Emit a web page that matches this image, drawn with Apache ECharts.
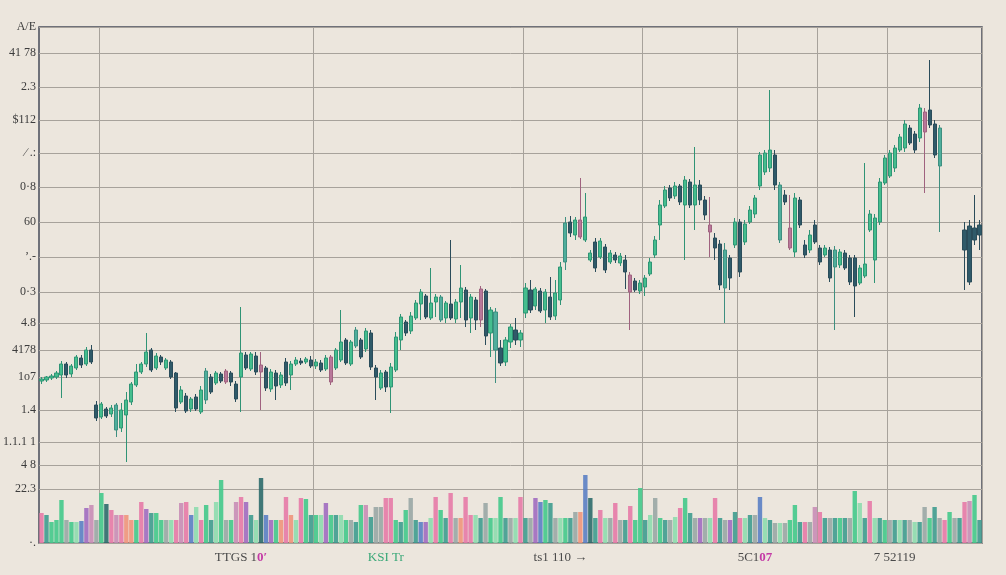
<!DOCTYPE html>
<html><head><meta charset="utf-8">
<script src="https://cdn.jsdelivr.net/npm/echarts@6/dist/echarts.min.js"></script>
<style>html,body{margin:0;padding:0;background:#ece6dd}#c{width:1006px;height:575px}</style>
</head><body><div id="c"></div>
<script>
// ---- data (price units are arbitrary chart units; [open, close, low, high]) ----
const ohlc = [
[162,164,159,166],[163,166,161,167],[165,167,163,169],[166,170,164,172],[168,179,145,182],
[179,168,165,181],[169,177,166,179],[175,186,173,188],[185,178,175,188],[179,193,177,196],
[193,181,179,198],[138,125,122,142],[126,139,124,141],[134,127,125,136],[129,135,126,138],
[138,113,106,140],[115,133,111,140],[128,143,81,151],[141,159,138,161],[158,171,156,179],
[171,179,169,181],[179,191,176,210],[193,173,171,195],[175,187,173,190],[186,181,178,188],
[175,183,173,185],[181,166,164,183],[170,135,131,171],[141,153,139,157],[147,132,130,150],
[134,144,131,146],[146,134,132,149],[131,153,129,157],[143,172,139,175],[166,151,149,169],
[160,170,158,172],[169,162,160,171],[161,172,159,174],[170,161,157,172],[159,144,141,162],
[166,190,131,236],[188,175,173,191],[174,189,172,191],[187,171,168,191],[171,178,133,191],
[175,155,152,177],[154,171,151,174],[170,157,143,173],[158,168,155,171],[181,160,157,185],
[168,179,153,182],[179,183,177,186],[182,180,178,185],[181,184,179,186],[183,177,175,187],
[177,181,174,184],[180,173,171,183],[174,185,172,188],[186,161,158,188],[175,193,173,195],
[183,201,181,233],[203,180,178,205],[179,201,177,203],[197,213,195,216],[203,186,184,205],
[194,212,191,215],[210,176,173,213],[175,166,143,178],[155,170,153,173],[171,156,151,173],
[156,176,130,180],[173,206,171,211],[203,226,193,229],[221,210,207,223],[212,227,209,231],
[225,240,223,243],[239,251,223,254],[247,226,224,249],[225,240,223,275],[241,246,226,249],
[246,223,221,248],[225,240,220,242],[239,225,223,303],[224,241,220,244],[241,255,225,278],
[253,223,216,256],[225,246,210,249],[243,223,213,246],[223,254,216,257],[252,207,198,254],
[210,233,186,236],[231,193,160,235],[195,180,177,203],[181,203,177,206],[201,216,195,219],
[213,203,198,225],[203,210,196,213],[230,255,225,260],[253,233,230,263],[237,254,233,256],
[252,232,230,255],[233,251,220,254],[246,226,223,266],[227,250,223,263],[243,276,238,281],
[281,320,273,326],[321,310,306,327],[308,323,303,326],[323,306,304,365],[303,326,301,350],
[283,290,281,293],[301,275,271,305],[286,302,284,305],[296,273,270,299],[281,290,279,293],
[288,283,280,291],[280,287,277,290],[283,271,254,288],[268,251,213,271],[262,253,251,265],
[252,260,249,263],[256,265,247,268],[269,281,267,285],[288,303,285,307],[318,338,303,343],
[337,353,335,357],[355,345,342,358],[347,357,344,361],[357,341,338,359],[338,363,283,367],
[361,338,335,364],[338,358,313,396],[358,343,338,363],[343,328,323,347],[318,311,286,346],
[305,295,283,310],[299,258,253,303],[255,293,220,300],[285,265,253,288],[298,321,295,325],
[321,271,266,324],[301,319,298,323],[321,333,319,337],[329,345,325,348],[357,388,353,391],
[371,390,368,393],[375,393,371,453],[388,358,353,393],[358,303,300,361],[348,341,338,353],
[315,295,293,348],[291,345,286,350],[343,318,315,346],[298,288,285,303],[293,308,290,313],
[318,301,299,323],[295,281,278,298],[288,295,286,298],[293,265,261,296],[293,276,213,297],
[278,291,275,294],[290,275,273,293],[285,261,258,288],[285,257,226,288],[260,275,258,278],
[267,279,265,380],[313,329,311,333],[283,325,260,329],[321,361,318,365],[360,385,358,388],
[367,390,365,393],[375,395,371,398],[393,406,391,409],[395,419,391,423],[415,400,398,418],
[409,393,390,412],[405,435,401,439],[431,411,350,435],[433,418,415,483],[419,388,385,423],
[415,377,311,418],['-','-','-','-'],['-','-','-','-'],['-','-','-','-'],['-','-','-','-'],
[313,293,253,321],[317,261,258,323],[315,303,298,348],[318,308,293,323]
];
const volume = [
30,28,21,23,43,23,21,21,22,35, 38,23,50,39,33,28,28,28,23,23,
41,34,30,30,23,23,23,23,40,41, 28,36,23,38,23,41,63,23,23,41,
46,41,28,23,65,28,23,23,23,46, 28,23,45,44,28,28,28,40,28,28,
28,23,23,21,38,38,26,36,36,45, 45,23,21,33,45,23,21,21,25,46,
33,25,50,25,25,46,28,28,25,40, 25,25,46,25,25,25,46,25,25,45,
41,43,40,25,25,25,25,31,31,68, 45,25,33,25,25,40,23,23,37,23,
55,23,28,45,25,23,23,26,35,45, 30,25,25,25,25,45,25,23,23,31,
25,25,28,28,46,25,23,20,20,20, 23,38,21,21,21,36,31,25,25,25,
25,25,25,52,40,25,42,25,25,23, 23,23,23,23,23,21,21,36,25,36,
25,23,31,25,25,41,42,48,23
];
const volColorKeys = "ptgggyglbumygdpmpssgputggylpmpblpgtlgygmputldbugspslpgtglugtlgytgmtyyppgtgytbulpgtpyspplty" +
  "glgtylptyubgtylgtysbdtplypytpggtlygtylpgtyuylptyutpltybltylyggtpymptytgtygltpltgytltyltygtypgytpmgt";
const volPalette = {p:'#e77aa7', t:'#3f9c8f', g:'#44c98b', y:'#9aa7a5', l:'#8edbae', b:'#5b80c4',
  u:'#a16cc0', m:'#c98db6', s:'#f0957c', d:'#2e6b6b'};
const categories = ohlc.map((_, i) => 'D' + (i + 1));
const priceTicks = [0, 54, 78, 101, 133, 166, 193, 220, 251, 286, 321, 356, 390, 423, 456, 490, 516];
const priceTickLabels = ['\u00b7.', '22.3', '4 8', '1.1.1 1', '1.4', '1o7', '4178', '4.8', '0\u00b73', '\u2019.-',
  '60', '0\u00b78', '\u2215 .:', '$112', '2.3', '41 78', 'A/E'];
const xLabelIdx = [40, 69, 104, 143, 171];
const xLabelText = ['{a|TTGS 1}{m|0\u02b9}', '{g|KSI Tr}', '{a|ts1 110 \u2192}', '{a|5C1}{m|07}', '{a|7 52119}'];
const vGridIdx = [12, 55, 97, 121, 140, 156, 170];
const mauveIdx = [37, 44, 58, 88, 108, 134, 150, 177, 118];
const tealIdx = [15, 33, 63, 80, 91, 105, 137, 148, 159, 180];

const chart = echarts.init(document.getElementById('c'), null, {renderer: 'canvas'});
const candleData = ohlc.map((d, i) => {
  if (mauveIdx.includes(i)) return {value: d, itemStyle: {color: '#b8789a', color0: '#8d5f7c', borderColor: '#a0627f', borderColor0: '#8d5f7c'}};
  if (tealIdx.includes(i)) return {value: d, itemStyle: {color: '#4fae9c', color0: '#4fae9c', borderColor: '#3e8f80', borderColor0: '#3e8f80'}};
  return d;
});
const option = {
  backgroundColor: '#ece6dd',
  animation: false,
  grid: {left: 37, right: 24, top: 27, bottom: 32, show: true, borderColor: '#454b58', borderWidth: 1.5},
  xAxis: {
    type: 'category', data: categories, boundaryGap: true,
    axisLine: {show: false}, axisTick: {show: false},
    splitLine: {show: true, interval: (i) => vGridIdx.includes(i), lineStyle: {color: '#a7a29b', width: 1}},
    axisLabel: {
      interval: (i) => xLabelIdx.includes(i),
      formatter: (v, i) => { const k = xLabelIdx.indexOf(i); return k >= 0 ? xLabelText[k] : ''; },
      margin: 8,
      rich: {
        a: {color: '#4a4a4a', fontSize: 13, fontFamily: 'Liberation Serif'},
        m: {color: '#c43aa6', fontSize: 13, fontFamily: 'Liberation Serif', fontWeight: 'bold'},
        g: {color: '#3aa878', fontSize: 13, fontFamily: 'Liberation Serif'}
      }
    }
  },
  yAxis: [{
    type: 'value', min: 0, max: 516,
    axisLine: {show: false},
    axisTick: {show: false, customValues: priceTicks},
    axisLabel: {
      customValues: priceTicks, margin: 3, color: '#3c3c3c', fontSize: 12, fontFamily: 'Liberation Serif',
      formatter: (v) => { const k = priceTicks.indexOf(Math.round(v)); return k >= 0 ? priceTickLabels[k] : ''; }
    },
    splitLine: {show: true, lineStyle: {color: '#a7a29b', width: 1}}
  }, {
    type: 'value', min: 0, max: 516, show: false, splitLine: {show: false}
  }],
  series: [{
    type: 'bar', yAxisIndex: 1, barCategoryGap: '12%', z: 1,
    data: volume.map((v, i) => ({value: v, itemStyle: {color: volPalette[volColorKeys[i]], opacity: 0.9}}))
  }, {
    type: 'candlestick', yAxisIndex: 0, barWidth: '72%', z: 3,
    data: candleData,
    itemStyle: {color: '#45be8e', color0: '#2f5a69', borderColor: '#2f9475', borderColor0: '#2a4c5a', borderWidth: 1}
  }]
};
chart.setOption(option);
</script></body></html>
